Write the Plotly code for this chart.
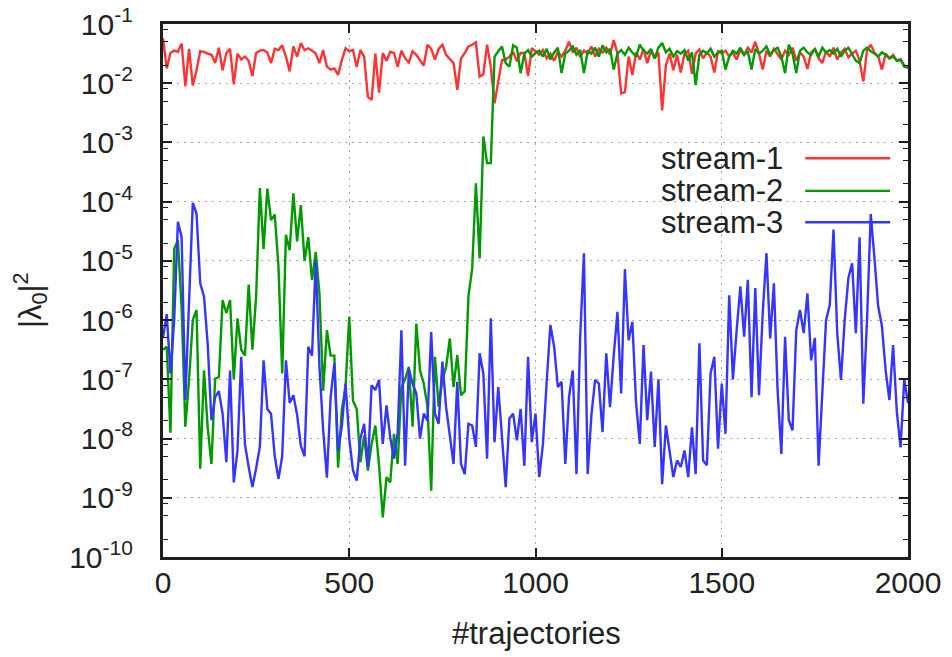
import plotly.graph_objects as go

# number of trajectories (sampled every 10)
trajectories = list(range(0, 2001, 10))

# log10 of |lambda_0|^2 for each stream
stream1_log10 = [
    -1.24, -1.75, -1.49, -1.45, -1.47, -1.33, -2.05, -1.42, -2.04, -1.78,
    -1.46, -1.47, -1.50, -1.52, -1.66, -1.40, -1.78, -1.49, -1.42, -2.02,
    -1.50, -1.60, -1.55, -1.62, -1.88, -1.49, -1.45, -1.44, -1.48, -1.66,
    -1.42, -1.44, -1.36, -1.55, -1.80, -1.38, -1.55, -1.32, -1.44, -1.41,
    -1.45, -1.50, -1.66, -1.44, -1.72, -1.77, -1.75, -1.86, -1.61, -1.41,
    -1.46, -1.44, -1.72, -1.44, -1.55, -2.23, -2.28, -1.50, -2.16, -1.49,
    -1.62, -1.47, -1.49, -1.72, -1.45, -1.58, -1.65, -1.46, -1.52, -1.60,
    -1.70, -1.35, -1.42, -1.60, -1.42, -1.35, -1.52, -1.59, -1.66, -2.11,
    -1.58, -1.49, -1.38, -1.35, -1.31, -1.89, -1.85, -1.35, -1.72, -2.34,
    -2.00, -1.61, -1.60, -1.55, -1.47, -1.63, -1.49, -1.49, -1.88, -1.41,
    -1.46, -1.52, -1.44, -1.58, -1.50, -1.62, -1.47, -1.55, -1.45, -1.30,
    -1.48, -1.40, -1.56, -1.45, -1.50, -1.38, -1.55, -1.42, -1.48, -1.40,
    -1.52, -1.27, -1.50, -2.17, -2.15, -1.55, -1.86, -1.48, -1.60, -1.42,
    -1.66, -1.45, -1.58, -1.48, -2.46, -1.70, -1.50, -1.78, -1.52, -1.82,
    -1.50, -1.45, -1.84, -1.50, -1.43, -1.58, -1.48, -1.55, -1.82, -1.46,
    -1.50, -1.45, -1.55, -1.48, -1.60, -1.44, -1.52, -1.40, -1.48, -1.30,
    -1.50, -1.77, -1.45, -1.55, -1.42, -1.50, -1.60, -1.45, -1.52, -1.40,
    -1.62, -1.48, -1.55, -1.76, -1.48, -1.42, -1.58, -1.66, -1.46, -1.55,
    -1.40, -1.60, -1.48, -1.42, -1.56, -1.50, -1.45, -1.62, -1.97, -1.45,
    -1.35, -1.48, -1.55, -1.77, -1.50, -1.58, -1.52, -1.62, -1.60, -1.70,
    -1.75,
]

stream2_log10 = [
    -6.50, -6.45, -7.90, -4.80, -4.65, -5.80, -7.80, -7.00, -6.00, -5.83,
    -8.51, -6.85, -7.81, -8.43, -6.99, -6.96, -5.66, -5.88, -5.66, -7.00,
    -5.97, -6.50, -6.60, -5.40, -6.50, -5.60, -3.77, -4.80, -3.78, -4.31,
    -4.22, -5.10, -6.90, -4.56, -4.82, -3.86, -4.67, -4.06, -5.00, -4.60,
    -5.32, -4.85, -5.55, -7.19, -6.17, -6.60, -6.60, -8.49, -7.52, -7.13,
    -5.94, -7.36, -7.50, -8.40, -7.95, -8.54, -8.09, -7.78, -8.45, -9.33,
    -8.65, -8.74, -7.92, -8.43, -7.13, -7.00, -6.79, -7.80, -6.06, -6.85,
    -7.07, -7.46, -8.88, -6.62, -7.46, -7.01, -6.79, -6.31, -7.13, -6.59,
    -7.27, -7.20, -5.60, -5.13, -3.69, -4.96, -2.90, -3.35, -3.35, -1.55,
    -1.46, -1.38, -1.66, -1.72, -1.36, -1.40, -1.83, -1.50, -1.44, -1.55,
    -1.49, -1.45, -1.55, -1.42, -1.60, -1.48, -1.40, -1.83, -1.50, -1.45,
    -1.38, -1.52, -1.44, -1.83, -1.46, -1.50, -1.40, -1.55, -1.36, -1.48,
    -1.42, -1.77, -1.50, -1.44, -1.52, -1.40, -1.48, -1.55, -1.35, -1.45,
    -1.50, -1.42, -1.58, -1.40, -1.32, -1.48, -1.42, -1.55, -1.46, -1.50,
    -1.44, -1.62, -1.48, -2.03, -1.52, -1.45, -1.50, -1.42, -1.55, -1.48,
    -1.45, -1.77, -1.55, -1.45, -1.50, -1.40, -1.52, -1.46, -1.77, -1.42,
    -1.50, -1.45, -1.38, -1.52, -1.44, -1.40, -1.55, -1.83, -1.35, -1.50,
    -1.83, -1.45, -1.40, -1.48, -1.52, -1.42, -1.55, -1.40, -1.48, -1.44,
    -1.50, -1.42, -1.55, -1.45, -1.40, -1.52, -1.62, -1.66, -1.45, -1.40,
    -1.46, -1.50, -1.55, -1.48, -1.52, -1.58, -1.55, -1.62, -1.60, -1.72,
    -1.73,
]

stream3_log10 = [
    -6.30, -5.90, -6.90, -6.00, -4.34, -4.60, -7.35, -5.50, -4.02, -4.20,
    -5.38, -5.60, -6.40, -7.69, -7.30, -7.20, -7.58, -8.40, -6.85, -8.74,
    -8.20, -6.62, -8.10, -8.48, -8.82, -8.50, -8.14, -6.68, -7.50, -7.58,
    -8.30, -8.68, -8.30, -6.68, -7.40, -7.27, -7.60, -8.12, -8.30, -6.45,
    -6.60, -5.00, -6.79, -7.86, -8.66, -7.30, -6.73, -8.20, -7.80, -7.07,
    -8.00, -8.54, -8.71, -8.00, -7.75, -8.48, -7.10, -7.18, -7.01, -8.09,
    -7.44, -7.98, -8.34, -7.90, -6.17, -8.46, -6.82, -7.07, -7.24, -8.00,
    -7.58, -7.70, -6.20, -7.58, -7.75, -6.70, -7.47, -7.95, -8.43, -7.04,
    -8.43, -8.60, -7.75, -7.78, -8.14, -6.56, -6.90, -8.34, -5.97, -8.06,
    -7.13, -7.97, -8.82, -7.66, -7.58, -8.03, -7.50, -8.46, -6.62, -8.06,
    -7.58, -8.65, -8.09, -7.04, -6.08, -6.45, -7.13, -7.04, -8.43, -7.30,
    -6.85, -8.60, -6.28, -4.87, -8.60, -7.61, -7.01, -7.07, -7.89, -6.56,
    -7.47, -6.60, -5.86, -7.24, -5.14, -6.34, -6.03, -7.40, -8.09, -6.42,
    -7.69, -6.87, -8.14, -7.00, -8.77, -7.78, -8.26, -8.65, -8.37, -8.48,
    -8.20, -8.65, -7.81, -8.60, -6.39, -8.37, -8.45, -6.90, -6.62, -8.17,
    -7.07, -7.92, -5.58, -7.00, -6.17, -5.43, -6.28, -5.32, -7.30, -5.46,
    -7.27, -5.88, -4.87, -6.31, -5.38, -7.20, -8.26, -6.28, -7.69, -7.86,
    -6.17, -5.83, -6.22, -5.55, -6.68, -6.30, -8.46, -7.24, -6.00, -5.74,
    -4.47, -6.22, -7.01, -6.00, -5.29, -5.04, -6.22, -4.60, -7.41, -6.00,
    -4.21, -4.96, -5.77, -6.10, -6.85, -7.35, -6.42, -7.55, -8.15, -7.00,
    -7.40,
]

series_names = ["stream-1", "stream-2", "stream-3"]
series_colors = ["#ff3333", "#009900", "#3535ff"]
series_log10 = [stream1_log10, stream2_log10, stream3_log10]

x_ticks = [0, 500, 1000, 1500, 2000]
y_exponents = list(range(-10, 0))
y_ticks = [10.0 ** k for k in y_exponents]
y_ticktext = [f"10<sup>{k}</sup>\u00a0" for k in y_exponents]
y_minor = [m * 10.0 ** k for k in range(-10, -1) for m in (2, 5, 8)]

FONT = "Liberation Sans, Arial, Helvetica, sans-serif"
TEXT = "#222222"

fig = go.Figure()
for name, color, logs in zip(series_names, series_colors, series_log10):
    fig.add_trace(go.Scatter(
        x=trajectories,
        y=[10.0 ** v for v in logs],
        mode="lines",
        name=name,
        line=dict(color=color, width=2.4),
        showlegend=False,
    ))

# key: opaque box under the curves, labels to the left of the sample lines
key_left, key_right = 0.6295, 0.989
key_bottom, key_top = 0.598, 0.777
fig.add_shape(type="rect", xref="paper", yref="paper",
              x0=key_left, x1=key_right, y0=key_bottom, y1=key_top,
              fillcolor="white", line=dict(width=0), layer="between")

key_rows = [0.748, 0.687, 0.628]
for name, color, yk in zip(series_names, series_colors, key_rows):
    fig.add_annotation(text=name, xref="paper", yref="paper",
                       x=0.835, y=yk, xanchor="right", yanchor="middle",
                       showarrow=False, font=dict(family=FONT, size=31, color=TEXT))
    fig.add_shape(type="line", xref="paper", yref="paper",
                  x0=0.862, x1=0.976, y0=yk, y1=yk,
                  line=dict(color=color, width=2.4), layer="above")

# axis titles
fig.add_annotation(text="#trajectories", xref="paper", yref="paper",
                   x=0.502, y=-0.1426, xanchor="center", yanchor="middle",
                   showarrow=False, font=dict(family=FONT, size=31, color=TEXT))
fig.add_annotation(text="|λ<sub>0</sub>|<sup>2</sup>", xref="paper", yref="paper",
                   x=-0.1785, y=0.482, xanchor="center", yanchor="middle",
                   textangle=-90, showarrow=False,
                   font=dict(family=FONT, size=31, color=TEXT))

grid = dict(showgrid=True, gridcolor="#a8a8a8", gridwidth=1.2, griddash="2px,5px")
frame = dict(showline=True, linecolor="#1e1e1e", linewidth=2.5, mirror="ticks",
             ticks="inside", ticklen=9, tickwidth=1.5, tickcolor="#1e1e1e",
             zeroline=False, automargin=False,
             tickfont=dict(family=FONT, size=30, color=TEXT))

fig.update_xaxes(range=[0, 2000], tickmode="array", tickvals=x_ticks,
                 ticklabelstandoff=-3, **grid, **frame)
fig.update_yaxes(type="log", range=[-10, -1], tickmode="array",
                 tickvals=y_ticks, ticktext=y_ticktext, ticklabelstandoff=13,
                 minor=dict(tickmode="array", tickvals=y_minor, ticks="inside",
                            ticklen=5, tickwidth=1.2, tickcolor="#1e1e1e",
                            showgrid=False),
                 **grid, **frame)

fig.update_layout(
    width=952, height=657,
    margin=dict(l=163, r=44, t=24, b=100),
    paper_bgcolor="white", plot_bgcolor="white",
    font=dict(family=FONT, color=TEXT),
)

fig.write_html("out.html")
